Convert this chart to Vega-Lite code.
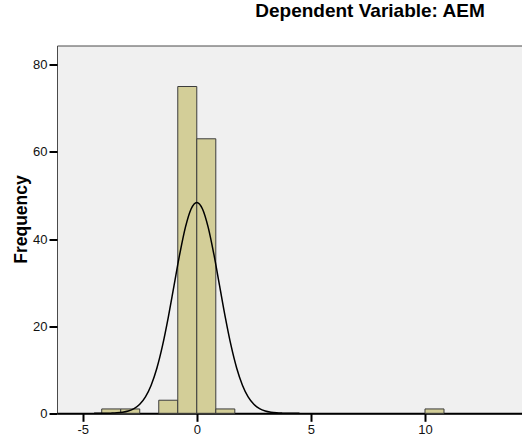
{
  "$schema": "https://vega.github.io/schema/vega-lite/v6.json",
  "width": 466,
  "height": 367.8,
  "autosize": {"type": "none"},
  "padding": {"left": 57, "top": 45.5, "right": 0, "bottom": 28.7},
  "background": "white",
  "config": {
    "font": "Liberation Sans",
    "view": {"fill": "#F0F0F0", "stroke": "#4a4a4a", "strokeWidth": 1}
  },
  "title": {
    "text": "Dependent Variable: AEM",
    "font": "Liberation Sans",
    "fontSize": 19,
    "fontWeight": "bold",
    "color": "#000000",
    "anchor": "middle",
    "dx": 80,
    "dy": 16.5,
    "baseline": "alphabetic",
    "offset": 26
  },
  "layer": [
    {
      "data": {
        "values": [
          {"bin_start": -4.1667, "bin_end": -3.3333, "count": 1},
          {"bin_start": -3.3333, "bin_end": -2.5, "count": 1},
          {"bin_start": -1.6667, "bin_end": -0.8333, "count": 3},
          {"bin_start": -0.8333, "bin_end": 0, "count": 75},
          {"bin_start": 0, "bin_end": 0.8333, "count": 63},
          {"bin_start": 0.8333, "bin_end": 1.6667, "count": 1},
          {"bin_start": 10, "bin_end": 10.8333, "count": 1}
        ]
      },
      "mark": {"type": "rect", "fill": "#D3CE98", "stroke": "#3c3c3c", "strokeWidth": 1},
      "encoding": {
        "x": {
          "field": "bin_start",
          "type": "quantitative",
          "scale": {"domain": [-6.126, 14.295], "nice": false, "zero": false},
          "axis": {
            "values": [-5, 0, 5, 10],
            "labelExpr": "'' + datum.value",
            "title": null,
            "grid": false,
            "domainColor": "#000000",
            "domainWidth": 2,
            "tickColor": "#000000",
            "tickWidth": 2,
            "tickSize": 8,
            "labelFontSize": 13,
            "labelColor": "#111111",
            "labelPadding": 2
          }
        },
        "x2": {"field": "bin_end"},
        "y": {
          "field": "count",
          "type": "quantitative",
          "scale": {"domain": [0, 84.41], "nice": false},
          "axis": {
            "values": [0, 20, 40, 60, 80],
            "title": "Frequency",
            "titleFontSize": 17.5,
            "titleFontWeight": "bold",
            "titleColor": "#000000",
            "titlePadding": 2,
            "titleY": 173.5,
            "grid": false,
            "domain": false,
            "tickColor": "#000000",
            "tickWidth": 2,
            "tickSize": 8,
            "labelFontSize": 13,
            "labelColor": "#111111",
            "labelPadding": 2
          }
        },
        "y2": {"datum": 0}
      }
    },
    {
      "data": {
        "values": [
          {"x": -4.5, "y": 0.0},
          {"x": -4.0, "y": 0.015},
          {"x": -3.75, "y": 0.04},
          {"x": -3.5, "y": 0.10},
          {"x": -3.25, "y": 0.24},
          {"x": -3.0, "y": 0.52},
          {"x": -2.75, "y": 1.07},
          {"x": -2.5, "y": 2.07},
          {"x": -2.25, "y": 3.77},
          {"x": -2.0, "y": 6.45},
          {"x": -1.75, "y": 10.34},
          {"x": -1.5, "y": 15.57},
          {"x": -1.25, "y": 22.02},
          {"x": -1.0, "y": 29.24},
          {"x": -0.75, "y": 36.45},
          {"x": -0.5, "y": 42.67},
          {"x": -0.25, "y": 46.90},
          {"x": 0.0, "y": 48.4},
          {"x": 0.25, "y": 46.90},
          {"x": 0.5, "y": 42.67},
          {"x": 0.75, "y": 36.45},
          {"x": 1.0, "y": 29.24},
          {"x": 1.25, "y": 22.02},
          {"x": 1.5, "y": 15.57},
          {"x": 1.75, "y": 10.34},
          {"x": 2.0, "y": 6.45},
          {"x": 2.25, "y": 3.77},
          {"x": 2.5, "y": 2.07},
          {"x": 2.75, "y": 1.07},
          {"x": 3.0, "y": 0.52},
          {"x": 3.25, "y": 0.24},
          {"x": 3.5, "y": 0.10},
          {"x": 3.75, "y": 0.04},
          {"x": 4.0, "y": 0.015},
          {"x": 4.5, "y": 0.0}
        ]
      },
      "mark": {"type": "line", "color": "#000000", "strokeWidth": 1.5, "interpolate": "monotone"},
      "encoding": {
        "x": {"field": "x", "type": "quantitative"},
        "y": {"field": "y", "type": "quantitative"}
      }
    }
  ]
}
